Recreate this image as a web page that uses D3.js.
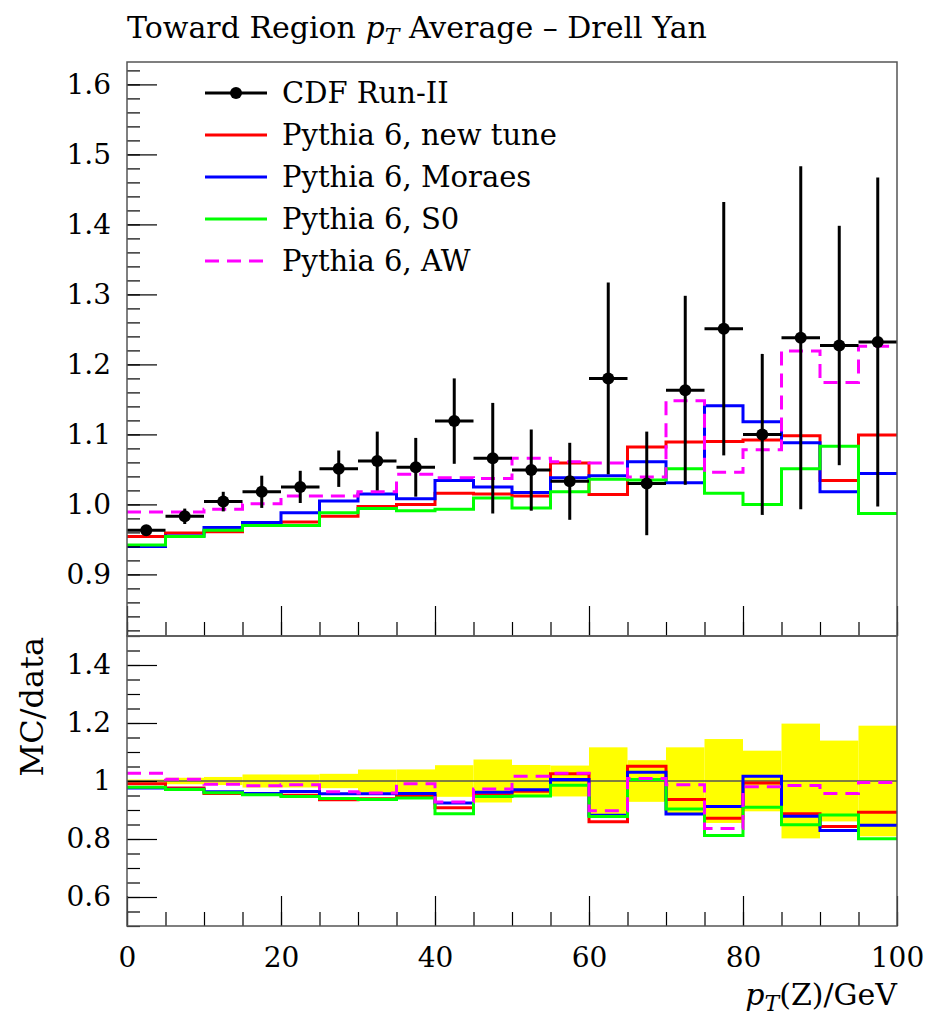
<!DOCTYPE html>
<html>
<head>
<meta charset="utf-8">
<script src="https://cdnjs.cloudflare.com/ajax/libs/d3/7.8.5/d3.min.js"></script>
<style>
  body { margin: 0; background: #fff; }
  svg { display: block; }
  text { font-family: "DejaVu Serif", serif; fill: #000; }
</style>
</head>
<body>
<svg id="chart" width="926" height="1015"></svg>
<script>
// bin edges of pT(Z) in GeV
const binEdges = [0, 5, 10, 15, 20, 25, 30, 35, 40, 45, 50, 55, 60, 65, 70, 75, 80, 85, 90, 95, 100];

// CDF Run-II data and its errors
const cdfVals = [0.963, 0.983, 1.004, 1.018, 1.025, 1.051, 1.062, 1.053, 1.119, 1.066,
                 1.049, 1.033, 1.180, 1.030, 1.163, 1.251, 1.100, 1.238, 1.227, 1.232];
const cdfErr  = [0.005, 0.011, 0.014, 0.023, 0.023, 0.026, 0.042, 0.042, 0.061, 0.079,
                 0.058, 0.055, 0.137, 0.074, 0.135, 0.181, 0.115, 0.245, 0.171, 0.235];

// MC predictions
const newTune = [0.954, 0.959, 0.961, 0.971, 0.975, 0.983, 0.997, 1.000, 1.016, 1.015,
                 1.012, 1.059, 1.014, 1.082, 1.089, 1.090, 1.092, 1.098, 1.034, 1.099];
const moraes  = [0.940, 0.955, 0.967, 0.974, 0.988, 1.005, 1.015, 1.008, 1.034, 1.025,
                 1.017, 1.038, 1.041, 1.061, 1.031, 1.141, 1.118, 1.088, 1.018, 1.044];
const tuneS0  = [0.942, 0.954, 0.963, 0.970, 0.970, 0.988, 0.994, 0.991, 0.993, 1.009,
                 0.995, 1.018, 1.036, 1.035, 1.051, 1.016, 1.000, 1.051, 1.083, 0.987];
const tuneAW  = [0.989, 0.989, 0.993, 1.001, 1.012, 1.012, 1.018, 1.043, 1.038, 1.037,
                 1.066, 1.061, 1.059, 1.039, 1.148, 1.046, 1.078, 1.219, 1.174, 1.226];

// tick labels
const xTicks = [0, 20, 40, 60, 80, 100];
const yTicksMain = [0.9, 1.0, 1.1, 1.2, 1.3, 1.4, 1.5, 1.6];
const yTicksRatio = [0.6, 0.8, 1, 1.2, 1.4];

const series = [
  { label: "Pythia 6, new tune", vals: newTune, color: "#ff0000", dash: null },
  { label: "Pythia 6, Moraes", vals: moraes, color: "#0000ff", dash: null },
  { label: "Pythia 6, S0", vals: tuneS0, color: "#00ff00", dash: null },
  { label: "Pythia 6, AW", vals: tuneAW, color: "#ff00ff", dash: "14,8" }
];

const pLeft = 127, pRight = 897, pTop = 62, pMid = 636, pBottom = 926;

const svg = d3.select("#chart");

const x = d3.scaleLinear().domain([0, 100]).range([pLeft, pRight]);
const yMain = d3.scaleLinear().domain([0.812, 1.632]).range([pMid, pTop]);
const yRatio = d3.scaleLinear().domain([0.5, 1.5]).range([pBottom, pMid]);

// title
const title = svg.append("text").attr("x", pLeft).attr("y", 38).style("font-size", "30px");
title.append("tspan").text("Toward Region ");
title.append("tspan").style("font-style", "italic").text("p");
title.append("tspan").style("font-style", "italic").style("font-size", "22px").attr("dy", 6).text("T");
title.append("tspan").attr("dy", -6).text(" Average \u2013 Drell Yan");

// ---- ratio band (data errors)
svg.append("g").selectAll("rect")
  .data(cdfVals)
  .join("rect")
  .attr("x", (d, i) => x(binEdges[i]))
  .attr("width", (d, i) => x(binEdges[i + 1]) - x(binEdges[i]))
  .attr("y", (d, i) => yRatio(1 + cdfErr[i] / d))
  .attr("height", (d, i) => yRatio(1 - cdfErr[i] / d) - yRatio(1 + cdfErr[i] / d))
  .attr("fill", "#ffff00");

svg.append("line")
  .attr("x1", pLeft).attr("x2", pRight)
  .attr("y1", yRatio(1)).attr("y2", yRatio(1))
  .attr("stroke", "#555").attr("stroke-width", 1.5);

// step histogram
function stepPath(vals, yScale) {
  const pts = vals.map((v, i) => [binEdges[i], v]);
  pts.push([binEdges[binEdges.length - 1], vals[vals.length - 1]]);
  return d3.line()
    .x(d => x(d[0]))
    .y(d => yScale(d[1]))
    .curve(d3.curveStepAfter)(pts);
}

series.forEach(s => {
  svg.append("path")
    .attr("d", stepPath(s.vals, yMain))
    .attr("fill", "none")
    .attr("stroke", s.color)
    .attr("stroke-width", 3)
    .attr("stroke-dasharray", s.dash);

  const ratio = s.vals.map((v, i) => v / cdfVals[i]);
  svg.append("path")
    .attr("d", stepPath(ratio, yRatio))
    .attr("fill", "none")
    .attr("stroke", s.color)
    .attr("stroke-width", 3)
    .attr("stroke-dasharray", s.dash);
});

// data points
const pts = svg.append("g");
cdfVals.forEach((v, i) => {
  const cx = x((binEdges[i] + binEdges[i + 1]) / 2);
  pts.append("line")
    .attr("x1", x(binEdges[i])).attr("x2", x(binEdges[i + 1]))
    .attr("y1", yMain(v)).attr("y2", yMain(v))
    .attr("stroke", "#000").attr("stroke-width", 3);
  pts.append("line")
    .attr("x1", cx).attr("x2", cx)
    .attr("y1", yMain(v - cdfErr[i])).attr("y2", yMain(v + cdfErr[i]))
    .attr("stroke", "#000").attr("stroke-width", 3);
  pts.append("circle")
    .attr("cx", cx).attr("cy", yMain(v)).attr("r", 6)
    .attr("fill", "#000");
});

// ---- axes
function styleAxis(g) {
  g.select(".domain").remove();
  g.selectAll(".tick line").attr("stroke", "#000").attr("stroke-width", 1.2);
  g.selectAll(".tick text").style("font-size", "28px").style("font-family", "DejaVu Serif");
}

// main y
svg.append("g").attr("transform", `translate(${pLeft},0)`)
  .call(d3.axisLeft(yMain).tickValues(yMain.ticks(40)).tickSize(-13).tickFormat(""))
  .call(styleAxis);
svg.append("g").attr("transform", `translate(${pLeft},0)`)
  .call(d3.axisLeft(yMain).tickValues(yTicksMain).tickSize(-30).tickPadding(16).tickFormat(d3.format(".1f")))
  .call(styleAxis);

// ratio y
svg.append("g").attr("transform", `translate(${pLeft},0)`)
  .call(d3.axisLeft(yRatio).tickValues(yRatio.ticks(20)).tickSize(-13).tickFormat(""))
  .call(styleAxis);
svg.append("g").attr("transform", `translate(${pLeft},0)`)
  .call(d3.axisLeft(yRatio).tickValues(yTicksRatio).tickSize(-30).tickPadding(16).tickFormat(d => String(+d.toFixed(2))))
  .call(styleAxis);

// x ticks on main panel bottom
svg.append("g").attr("transform", `translate(0,${pMid})`)
  .call(d3.axisBottom(x).tickValues(x.ticks(20)).tickSize(-14).tickFormat(""))
  .call(styleAxis);
svg.append("g").attr("transform", `translate(0,${pMid})`)
  .call(d3.axisBottom(x).tickValues(xTicks).tickSize(-30).tickFormat(""))
  .call(styleAxis);

// x ticks on ratio bottom
svg.append("g").attr("transform", `translate(0,${pBottom})`)
  .call(d3.axisBottom(x).tickValues(x.ticks(20)).tickSize(-14).tickFormat(""))
  .call(styleAxis);
svg.append("g").attr("transform", `translate(0,${pBottom})`)
  .call(d3.axisBottom(x).tickValues(xTicks).tickSize(-30).tickPadding(21).tickFormat(d3.format("d")))
  .call(styleAxis);

// frames
svg.append("rect").attr("x", pLeft).attr("y", pTop).attr("width", pRight - pLeft).attr("height", pMid - pTop)
  .attr("fill", "none").attr("stroke", "#555").attr("stroke-width", 1.5);
svg.append("rect").attr("x", pLeft).attr("y", pMid).attr("width", pRight - pLeft).attr("height", pBottom - pMid)
  .attr("fill", "none").attr("stroke", "#555").attr("stroke-width", 1.5);

// axis titles
const xt = svg.append("text").attr("x", pRight).attr("y", 1005)
  .attr("text-anchor", "end").style("font-size", "30px");
xt.append("tspan").style("font-style", "italic").text("p");
xt.append("tspan").style("font-style", "italic").style("font-size", "22px").attr("dy", 6).text("T");
xt.append("tspan").attr("dy", -6).text("(Z)/GeV");

svg.append("text")
  .attr("transform", `translate(43,${pMid + 1}) rotate(-90)`)
  .attr("text-anchor", "end")
  .style("font-size", "32px")
  .text("MC/data");

// legend
const leg = svg.append("g");
const legRows = [{ label: "CDF Run-II", color: "#000", dash: null, marker: true }]
  .concat(series.map(s => ({ label: s.label, color: s.color, dash: s.dash, marker: false })));
legRows.forEach((r, i) => {
  const cy = 93 + i * 42;
  leg.append("line")
    .attr("x1", 205).attr("x2", 267).attr("y1", cy).attr("y2", cy)
    .attr("stroke", r.color).attr("stroke-width", 3)
    .attr("stroke-dasharray", r.dash);
  if (r.marker) {
    leg.append("circle").attr("cx", 236).attr("cy", cy).attr("r", 6).attr("fill", "#000");
  }
  leg.append("text").attr("x", 282).attr("y", cy + 10)
    .style("font-size", "29px").text(r.label);
});
</script>
</body>
</html>
